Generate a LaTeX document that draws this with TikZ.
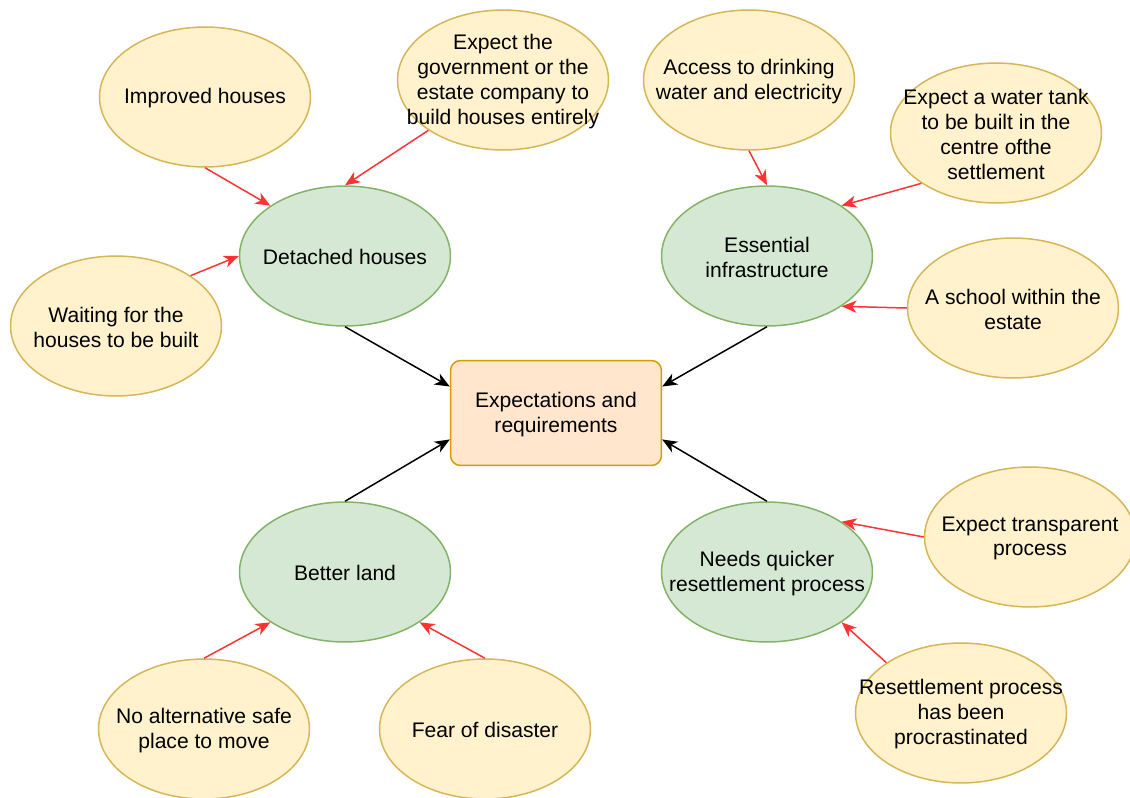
\documentclass[tikz,border=0pt]{standalone}
\usepackage{fontspec}
\setmainfont{Liberation Sans}
\usetikzlibrary{arrows.meta,shapes.geometric}
\definecolor{verdeF}{HTML}{D5E8D4}
\definecolor{verdeB}{HTML}{82B366}
\definecolor{gialloF}{HTML}{FFF2CC}
\definecolor{gialloB}{HTML}{D6B656}
\definecolor{aranF}{HTML}{FFE6CC}
\definecolor{aranB}{HTML}{D79B00}
\definecolor{rosso}{HTML}{FF3333}

\begin{document}
\begin{tikzpicture}[x=0.02cm, y=-0.02cm,
  testo/.style={font=\fontsize{12}{14.2}\selectfont, align=center, inner sep=0pt, yshift=-0.8pt},
  bolla/.style={ellipse, line width=0.85pt, minimum width=4.22cm, minimum height=2.8cm, inner sep=0pt},
  tema/.style={bolla, draw=verdeB, fill=verdeF},
  idea/.style={bolla, draw=gialloB, fill=gialloF},
  meta/.style={rectangle, rounded corners=0.2cm, line width=0.85pt, draw=aranB, fill=aranF, minimum width=4.22cm, minimum height=2.1cm},
  freccia/.style={line width=0.85pt, -{Stealth[length=8.5pt, width=7pt, inset=2.5pt]}}]
\useasboundingbox (0,0) rectangle (1130,798);

% Riquadro centrale
\node[meta, label={[testo]center:{Expectations and\\requirements}}] (goal) at (556,413) {};

% Temi (verde)
\node[tema, label={[testo]center:Detached houses}] (detached) at (345,256) {};
\node[tema, label={[testo]center:{Essential\\infrastructure}}] (infra) at (767,256) {};
\node[tema, label={[testo]center:Better land}] (better) at (345,572) {};
\node[tema, label={[testo]center:{Needs quicker\\resettlement process}}] (quick) at (767,572) {};

% Aspettative (giallo)
\node[idea, label={[testo]center:Improved houses}] (improved) at (205,97) {};
\node[idea, label={[testo]center:{Expect the\\government or the\\estate company to\\build houses entirely}}] (gov) at (503,80) {};
\node[idea, label={[testo]center:{Waiting for the\\houses to be built}}] (wait) at (116,326) {};
\node[idea, label={[testo]center:{Access to drinking\\water and electricity}}] (access) at (749,80) {};
\node[idea, label={[testo]center:{Expect a water tank\\to be built in the\\centre ofthe\\settlement}}] (tank) at (996,133) {};
\node[idea, label={[testo]center:{A school within the\\estate}}] (school) at (1013,308) {};
\node[idea, label={[testo]center:{Expect transparent\\process}}] (transp) at (1030,537) {};
\node[idea, label={[testo]center:{Resettlement process\\has been\\procrastinated}}] (proc) at (961,713) {};
\node[idea, label={[testo]center:{No alternative safe\\place to move}}] (noalt) at (204,729) {};
\node[idea, label={[testo]center:Fear of disaster}] (fear) at (485,729) {};

% Frecce rosse verso i temi
\foreach \a/\b in {improved.south/detached.146, gov.214/detached.north, wait.34/detached.west,
  access.south/infra.north, tank.214/infra.34, school.west/infra.-34,
  transp.west/quick.34, proc.146/quick.-34, noalt.north/better.214, fear.north/better.-34}{
    \draw[freccia, rosso] (\a) -- (\b);
}

% Frecce nere verso il riquadro
\foreach \a/\b in {detached.south/goal.166, infra.south/goal.14, better.north/goal.194, quick.north/goal.-14}{
    \draw[freccia] (\a) -- (\b);
}

\end{tikzpicture}
\end{document}
